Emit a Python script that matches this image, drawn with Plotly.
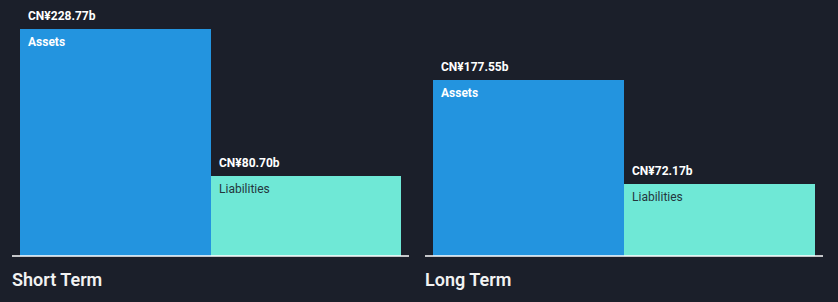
import plotly.graph_objects as go

panels = ["Short Term", "Long Term"]
categories = ["Assets", "Liabilities"]
short_term = [228.77, 80.70]
long_term = [177.55, 72.17]
value_labels_short = ["CN¥228.77b", "CN¥80.70b"]
value_labels_long = ["CN¥177.55b", "CN¥72.17b"]

W, H = 838, 302
BG = "#1b1f2a"
colors = ["#2394df", "#6fe8d6"]
name_colors = ["#ffffff", "#24363d"]

fig = go.Figure()

panel_data = [(short_term, value_labels_short, "x", (20, 401)),
              (long_term, value_labels_long, "x2", (433, 815))]

ymax = 228.77 * 256 / 227
base_frac = (H - 256) / H

for i, (vals, labs, xa, (x0, x1)) in enumerate(panel_data):
    fig.add_trace(go.Bar(
        x=[0, 1], y=vals, width=1,
        marker=dict(color=colors, line=dict(width=0)),
        xaxis=xa, yaxis="y", hoverinfo="skip", showlegend=False,
    ))
    axname = "xaxis" if i == 0 else "xaxis2"
    fig.layout[axname] = dict(domain=[x0 / W, x1 / W], range=[-0.5, 1.5],
                              visible=False, fixedrange=True)
    for j, v in enumerate(vals):
        fig.add_annotation(x=j - 0.5, y=v, xref=xa, yref="y", text=labs[j],
                           showarrow=False, xanchor="left", yanchor="middle",
                           xshift=6, yshift=13,
                           font=dict(family="Roboto", size=12, color="#ffffff", weight=700))
        fig.add_annotation(x=j - 0.5, y=v, xref=xa, yref="y", text=categories[j],
                           showarrow=False, xanchor="left", yanchor="middle",
                           xshift=6, yshift=-13,
                           font=dict(family="Roboto", size=12, color=name_colors[j],
                                     weight=700 if j == 0 else 400))
    # baseline
    fig.add_shape(type="line", xref="paper", yref="paper",
                  x0=(x0 - 8) / W, x1=(x1 + 8) / W, y0=base_frac, y1=base_frac,
                  line=dict(color="#ffffff", width=1.5))
    fig.add_annotation(x=(x0 - 8) / W, y=(H - 279) / H, xref="paper", yref="paper",
                       text=panels[i], showarrow=False, xanchor="left", yanchor="middle",
                       xshift=-2,
                       font=dict(family="Roboto", size=18, color="#f2f2f2", weight=600))

fig.update_layout(
    width=W, height=H, margin=dict(l=0, r=0, t=0, b=0),
    paper_bgcolor=BG, plot_bgcolor=BG, bargap=0,
    yaxis=dict(domain=[base_frac, 1], range=[0, ymax], visible=False, fixedrange=True),
)

fig.write_html("out.html", config={"displayModeBar": False})
